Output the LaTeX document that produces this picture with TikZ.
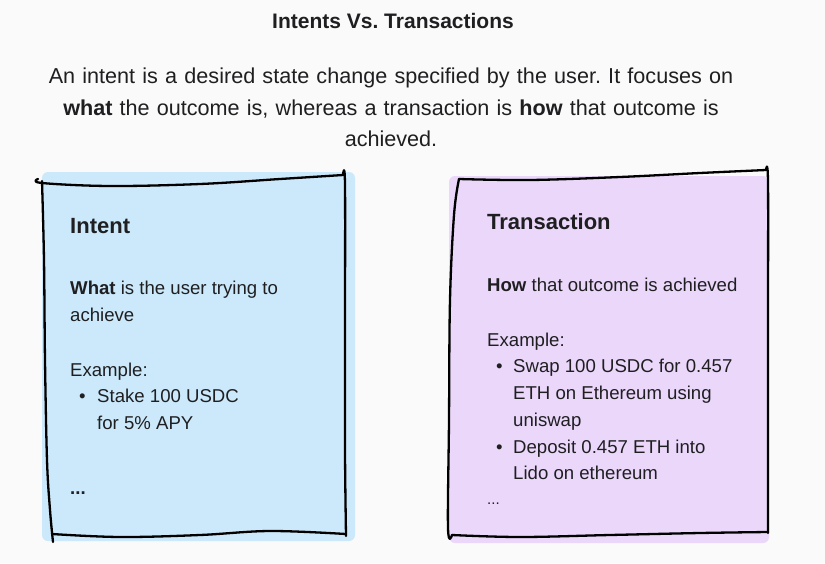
\documentclass[tikz,border=0pt]{standalone}
\usepackage{fontspec}
\setmainfont{Liberation Sans}
\usepackage{xcolor}
\definecolor{pagebg}{RGB}{250,250,250}
\definecolor{ink}{RGB}{31,31,34}
\definecolor{intentblue}{RGB}{203,233,250}
\definecolor{txpurple}{RGB}{234,215,250}
\frenchspacing

\begin{document}
\begin{tikzpicture}[x=1pt,y=-1pt,
  sketch/.style={draw=black,line width=2.3pt,line cap=round,line join=round},
  txt/.style={inner sep=0pt,text=ink,align=left},
  body/.style={txt,anchor=north west,font=\fontsize{18.6}{26.8}\selectfont},
  cardtitle/.style={txt,anchor=north west,font=\fontsize{22}{26}\selectfont\bfseries}]
\useasboundingbox (0,0) rectangle (825,563);
\fill[pagebg] (0,0) rectangle (825,563);

% heading
\node[txt,anchor=base,font=\fontsize{21}{24}\selectfont\bfseries] (title) at (393,28) {Intents Vs. Transactions};
\node[txt,anchor=north,align=center,text width=780pt,font=\fontsize{21.6}{31.5}\selectfont] (lead) at (391,68)
  {An intent is a desired state change specified by the user. It focuses on\\
   \textbf{what} the outcome is, whereas a transaction is \textbf{how} that outcome is\\
   achieved.};

% intent card
\fill[intentblue,rounded corners=6pt] (42,172) rectangle (355,541);
\draw[sketch] plot[smooth,tension=0.6] coordinates {(38,179) (42,183) (110,186) (200,184) (280,179) (343,175)};
\draw[sketch] plot[smooth,tension=0.6] coordinates {(343,175) (345,185) (345,330) (345,450) (346,536)};
\draw[sketch] plot[smooth,tension=0.6] coordinates {(42,181) (44,260) (45,360) (47,460) (50,510) (53,542)};
\draw[sketch] plot[smooth,tension=0.6] coordinates {(52,534) (120,537) (200,535) (270,531) (346,534)};

\node[cardtitle] (intent) at (70,218) {Intent};
\node[body] (intentwhat) at (70,281) {\textbf{What} is the user trying to\\achieve};
\node[body] (intentex) at (70,363) {Example:};
\node[body] (intentitem) at (79,389) {\makebox[18pt][l]{\textbullet}Stake 100 USDC\\\hspace*{18pt}for 5\% APY};
\node[body] (intentmore) at (70,492) {\textbf{...}};

% transaction card
\fill[txpurple,rounded corners=6pt] (449,176) rectangle (769,543);
\draw[sketch] plot[smooth,tension=0.6] coordinates {(459,179) (530,180) (620,177) (700,173) (766,170)};
\draw[sketch] plot[smooth,tension=0.6] coordinates {(766,170) (768,182) (768,320) (768,450) (768,533)};
\draw[sketch] plot[smooth,tension=0.6] coordinates {(459,179) (454,215) (450,300) (449,420) (448,528) (452,535)};
\draw[sketch] plot[smooth,tension=0.6] coordinates {(452,535) (520,537) (610,535) (700,533) (768,532)};

\node[cardtitle] (tx) at (487,213) {Transaction};
\node[body] (txhow) at (487,278) {\textbf{How} that outcome is achieved};
\node[body] (txex) at (487,333) {Example:};
\node[body] (txitems) at (496,359) {\makebox[17pt][l]{\textbullet}Swap 100 USDC for 0.457\\
  \hspace*{17pt}ETH on Ethereum using\\
  \hspace*{17pt}uniswap\\
  \makebox[17pt][l]{\textbullet}Deposit 0.457 ETH into\\
  \hspace*{17pt}Lido on ethereum};
\node[body,font=\fontsize{15}{16}\selectfont] (txmore) at (487,503) {...};
\end{tikzpicture}
\end{document}
